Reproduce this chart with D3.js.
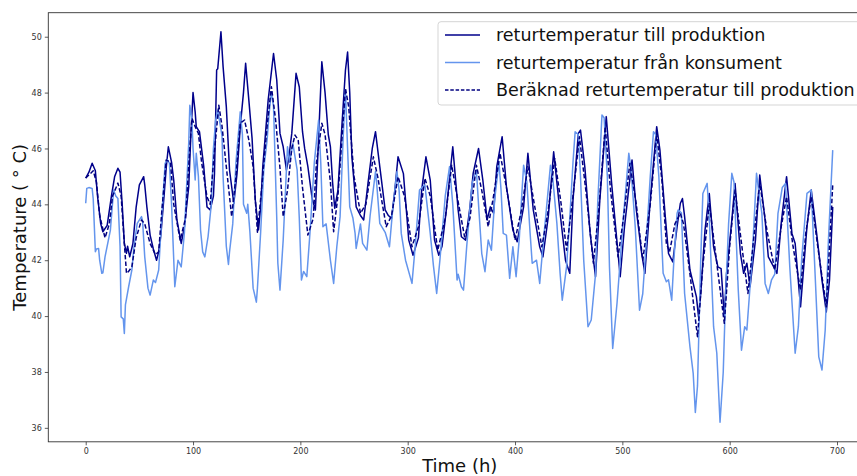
<!DOCTYPE html>
<html>
<head>
<meta charset="utf-8">
<script src="https://cdn.jsdelivr.net/npm/d3@7"></script>
<style>
  html, body { margin: 0; padding: 0; background: #fff; overflow: hidden; }
  svg { display: block; font-family: "DejaVu Sans", sans-serif; }
</style>
</head>
<body>
<svg id="chart" width="857" height="476"></svg>
<script>
// ---- data ----
const seriesNames = ["returtemperatur till produktion", "returtemperatur från konsument", "Beräknad returtemperatur till produktion"];

const prodTime = [0,3,6,9,11,14,16,20,24,27,30,32,34,36,38,39,41,44,47,50,54,55,57,60,63,66,68,70,73,75,77,80,82,85,89,92,96,98,100,102,103,105,106,110,113,116,119,120,122,123,126,128,131,134,138,141,144,147,149,152,155,158,161,163,165,170,175,178,181,184,187,189,192,196,199,202,204,207,211,214,216,220,223,226,228,230,232,235,239,242,244,246,248,252,256,259,263,267,270,274,279,282,285,288,291,296,301,305,310,313,317,321,325,329,332,336,342,347,350,354,358,361,366,370,374,377,380,383,388,392,398,402,408,412,417,423,426,431,436,442,447,451,454,459,461,465,470,475,479,485,490,496,498,502,509,513,518,521,526,532,535,540,543,547,551,554,556,558,563,569,571,573,577,581,585,589,592,595,597,602,605,610,613,616,619,624,628,633,636,641,644,648,653,658,661,666,672,676,681,686,690,693,696];
const prodTemp = [44.94,45.15,45.47,45.2,44.3,43.3,43.02,43.25,44.3,45.0,45.29,45.15,44.0,42.6,42.25,42.5,42.12,42.6,43.9,44.7,44.99,44.7,43.9,42.9,42.4,42.0,42.3,42.9,44.3,45.3,46.06,45.5,44.87,43.44,42.6,43.2,44.63,46.5,48.0,47.3,46.78,46.66,46.6,45.35,43.91,43.8,44.3,45.11,48.81,48.85,50.18,48.93,47.5,45.23,44.03,45.11,46.78,48.0,49.05,47.73,46.36,44.15,43.08,43.9,45.35,47.73,49.4,48.45,46.54,46.06,45.23,45.6,46.54,48.69,48.2,46.6,46.0,45.35,44.2,43.8,45.5,49.1,48.0,46.5,46.06,44.8,43.86,44.5,47.0,48.8,49.45,48.0,45.7,43.91,43.6,43.44,44.75,46.0,46.6,45.35,43.8,43.6,43.5,44.5,45.7,45.1,42.72,42.18,42.8,44.5,45.7,44.87,42.72,42.18,42.5,43.8,46.06,43.8,42.84,42.72,43.9,45.11,46.0,44.87,43.44,43.91,43.68,45.35,46.42,44.63,43.08,42.66,43.91,45.83,43.8,42.48,42.12,43.56,45.88,43.68,42.0,41.53,44.15,46.54,46.66,45.35,42.96,41.41,44.15,47.14,44.75,42.24,41.41,43.2,45.59,43.8,42.24,41.53,44.15,46.78,45.94,43.56,42.24,41.94,43.2,44.03,44.21,43.56,41.65,40.69,39.97,40.8,43.08,44.39,42.48,41.76,41.7,39.97,41.5,43.44,44.75,42.24,41.53,41.89,41.05,42.72,45.05,43.44,42.12,41.76,41.53,43.32,44.99,42.96,42.6,40.33,43.2,44.51,42.96,41.29,40.15,41.29,43.91];

const konsTime = [0,1,3,6,7,9,10,12,13,15,16,18,23,26,28,30,32,33,35,36,37,40,43,45,48,52,53,55,58,60,63,65,68,70,74,76,78,80,83,86,89,92,94,96,97,99,100,102,103,105,107,109,111,114,117,119,121,123,127,128,131,133,134,137,140,144,146,147,150,151,153,156,159,160,163,166,169,171,173,175,178,179,181,184,188,190,193,197,199,201,203,206,209,213,217,219,221,224,228,231,234,237,240,242,244,246,249,251,252,256,258,262,265,270,271,274,279,283,286,290,292,294,298,304,307,311,316,318,321,324,327,330,335,339,342,346,347,350,352,355,360,364,366,369,372,375,378,381,385,387,389,392,395,398,401,404,406,408,411,414,416,420,423,426,430,433,435,439,442,444,448,451,454,456,459,461,464,468,471,475,477,481,483,486,488,491,495,498,501,506,508,512,516,519,522,526,529,531,534,538,541,543,546,548,551,552,555,558,563,566,568,570,573,575,579,581,585,588,591,594,596,599,602,604,608,611,614,616,621,625,627,630,633,636,639,642,645,649,652,656,661,664,667,672,676,679,683,686,689,692,696];
const konsTemp = [44.04,44.57,44.6,44.57,44.2,42.3,42.4,42.42,42.0,41.53,41.55,42.12,43.08,44.51,44.3,44.21,42.5,39.97,39.9,39.38,40.4,41.05,41.65,42.5,43.32,43.56,43.4,42.12,41.0,40.75,41.29,41.2,41.65,43.0,45.47,45.6,45.47,44.0,41.05,42.0,41.76,43.0,44.63,46.2,47.55,47.0,46.0,44.87,45.83,45.0,43.08,42.3,42.12,42.84,44.0,46.0,47.0,47.38,46.45,45.0,42.5,41.85,42.3,43.3,45.5,47.31,46.5,44.0,43.68,44.0,43.0,41.0,40.5,41.0,43.0,45.3,46.3,47.3,48.03,47.5,43.5,41.9,40.93,42.72,46.06,45.5,46.18,45.23,43.5,41.29,41.6,41.41,43.0,45.5,47.02,45.5,43.2,43.3,42.0,41.17,42.5,43.56,46.5,48.1,46.0,43.91,43.5,42.96,42.42,43.3,42.6,42.36,43.6,45.17,44.8,43.32,43.0,42.48,43.8,45.17,44.5,42.96,42.0,41.17,42.5,44.51,44.7,44.0,42.96,41.8,40.81,42.0,44.3,45.35,44.0,41.29,41.5,41.05,40.93,42.5,44.75,45.23,44.0,42.24,41.59,42.72,42.36,44.15,45.52,44.5,42.96,42.9,41.35,42.48,41.41,42.8,44.15,45.4,44.8,43.0,41.89,42.0,41.17,42.5,44.15,45.4,45.0,43.32,41.53,40.57,41.76,43.5,45.5,46.6,46.5,45.0,42.0,39.62,39.86,41.5,44.0,47.2,47.1,45.0,41.76,38.84,40.45,42.0,43.56,45.83,45.3,43.2,40.21,40.8,42.5,45.0,46.6,46.5,45.0,41.53,41.23,41.3,40.57,42.0,43.68,43.8,43.7,40.81,38.9,37.95,36.55,37.5,42.0,44.39,44.75,43.5,39.62,38.67,36.2,38.0,40.5,43.32,45.11,44.8,40.93,38.78,39.62,39.5,42.12,45.11,44.5,43.68,41.17,40.81,41.3,41.5,43.68,44.6,44.75,41.76,38.67,39.62,42.0,44.39,44.51,42.0,38.54,38.07,39.5,42.72,45.94];

const beraknadTime = [0,3,7,10,13,18,22,25,30,33,36,38,40,43,47,52,55,60,65,68,71,75,79,82,88,93,97,99,102,105,108,113,116,119,124,127,131,136,140,144,148,152,156,160,164,169,173,177,181,184,188,192,195,198,202,207,212,215,220,223,228,231,235,239,242,245,250,256,261,268,272,280,285,291,297,304,310,316,321,328,335,341,346,353,358,364,369,375,380,386,392,400,406,412,418,425,431,437,443,448,454,460,466,473,478,484,489,496,501,507,513,519,526,532,537,541,544,549,554,557,563,570,575,581,586,595,600,605,611,617,623,628,635,642,648,653,659,666,671,676,682,690,693,696];
const beraknadTemp = [44.94,45.05,45.2,44.8,43.6,42.8,43.3,44.3,44.76,44.3,42.6,41.53,41.6,41.76,42.8,43.44,43.3,42.6,42.2,42.3,43.8,45.59,45.5,44.0,42.72,43.5,46.0,47.08,46.78,46.54,45.5,44.27,44.0,45.5,47.55,46.8,45.35,43.56,45.0,46.9,47.02,46.3,45.35,43.0,44.6,46.8,48.21,47.0,45.3,43.56,44.5,46.0,46.48,46.3,44.6,42.9,43.5,45.5,46.9,46.5,44.8,43.02,44.3,46.5,48.15,47.5,45.0,43.68,44.0,45.7,45.0,43.2,43.6,44.99,44.3,42.48,43.2,44.93,44.3,42.36,43.5,45.4,44.3,42.84,43.5,45.4,44.5,43.2,44.3,45.83,44.6,42.72,43.8,45.35,44.0,42.48,43.8,45.64,44.0,42.36,44.3,46.42,44.5,41.89,43.8,46.78,44.5,42.12,43.5,45.47,44.0,42.0,44.0,46.54,44.8,42.6,42.3,43.3,43.68,43.3,41.5,39.26,41.8,44.03,42.5,39.74,42.5,44.51,42.6,40.81,43.0,44.75,43.0,41.65,43.2,44.27,42.5,40.93,43.0,44.27,42.5,40.33,42.5,44.69];

const xTicks = [0, 100, 200, 300, 400, 500, 600, 700];
const yTicks = [36, 38, 40, 42, 44, 46, 48, 50];
const xLabel = "Time (h)";
const yLabel = "Temperature ( ° C)";

// ---- layout ----
const svg = d3.select("#chart");
const mLeft = 48.3, mTop = 12.7, mBottom = 441.8, mRight = 871.2;

const x = d3.scaleLinear().domain([-34.85, 731.85]).range([mLeft, mRight]);
const y = d3.scaleLinear().domain([35.5, 50.86]).range([mBottom, mTop]);

const axisColor = "#333";

// axes
const xAxis = svg.append("g").attr("transform", `translate(0,${mBottom})`)
  .call(d3.axisBottom(x).tickValues(xTicks).tickSize(3.5).tickPadding(3).tickFormat(d3.format("d")));
const yAxis = svg.append("g").attr("transform", `translate(${mLeft},0)`)
  .call(d3.axisLeft(y).tickValues(yTicks).tickSize(3.5).tickPadding(3).tickFormat(d3.format("d")));
[xAxis, yAxis].forEach(g => {
  g.select(".domain").remove();
  g.selectAll(".tick line").attr("stroke", axisColor).attr("stroke-width", 0.8);
  g.selectAll(".tick text").attr("fill", axisColor).style("font-size", "8px")
    .style("font-family", "'DejaVu Sans', sans-serif");
});

// frame
svg.append("rect").attr("x", mLeft).attr("y", mTop)
  .attr("width", mRight - mLeft).attr("height", mBottom - mTop)
  .attr("fill", "none").attr("stroke", axisColor).attr("stroke-width", 0.9);

// lines
const mk = (ts, vs) => d3.range(Math.min(ts.length, vs.length)).map(i => [ts[i], vs[i]]);
const line = d3.line().x(d => x(d[0])).y(d => y(d[1]));
const plotG = svg.append("g");

plotG.append("path").datum(mk(prodTime, prodTemp))
  .attr("d", line).attr("fill", "none").attr("stroke", "#00008B").attr("stroke-width", 1.5)
  .attr("stroke-linejoin", "round");
plotG.append("path").datum(mk(konsTime, konsTemp))
  .attr("d", line).attr("fill", "none").attr("stroke", "#6495ED").attr("stroke-width", 1.5)
  .attr("stroke-linejoin", "round");
plotG.append("path").datum(mk(beraknadTime, beraknadTemp))
  .attr("d", line).attr("fill", "none").attr("stroke", "#000080").attr("stroke-width", 1.5)
  .attr("stroke-dasharray", "4.5,2.2").attr("stroke-linejoin", "round");

// axis labels
svg.append("text").attr("x", (mLeft + mRight) / 2).attr("y", 472)
  .attr("text-anchor", "middle").style("font-size", "18px").attr("fill", "#111").text(xLabel);
svg.append("text").attr("transform", `translate(26,${(mTop + mBottom) / 2}) rotate(-90)`)
  .attr("text-anchor", "middle").style("font-size", "18px").attr("fill", "#111").text(yLabel);

// legend
const legend = svg.append("g");
legend.append("rect").attr("x", 438).attr("y", 21.7).attr("width", 440).attr("height", 83.3)
  .attr("rx", 3).attr("fill", "white").attr("fill-opacity", 0.8)
  .attr("stroke", "#d0d0d0").attr("stroke-width", 0.9);
const legStyles = [
  { color: "#00008B", dash: null },
  { color: "#6495ED", dash: null },
  { color: "#000080", dash: "3.5,1.8" }
];
const rowY = [35, 62.5, 90];
seriesNames.forEach((name, i) => {
  const l = legend.append("line").attr("x1", 445).attr("x2", 480)
    .attr("y1", rowY[i]).attr("y2", rowY[i])
    .attr("stroke", legStyles[i].color).attr("stroke-width", 1.5);
  if (legStyles[i].dash) l.attr("stroke-dasharray", legStyles[i].dash);
  legend.append("text").attr("x", 496).attr("y", rowY[i]).attr("dy", "0.35em")
    .style("font-size", "17.5px").attr("fill", "#111").text(name);
});
console.log(prodTime.length, prodTemp.length, konsTime.length, konsTemp.length, beraknadTime.length, beraknadTemp.length);
</script>
</body>
</html>
